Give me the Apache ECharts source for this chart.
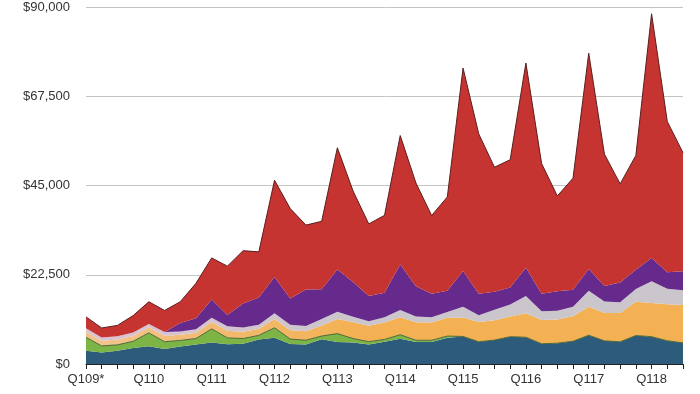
<!DOCTYPE html>
<html>
<head>
<meta charset="utf-8">
<script src="https://cdn.jsdelivr.net/npm/echarts@6/dist/echarts.min.js"></script>
<style>html,body{margin:0;padding:0;background:#fff;}#c{width:700px;height:394px;}</style>
</head>
<body>
<div id="c"></div>
<script>
const categories = ['Q109*','Q209','Q309','Q409','Q110','Q210','Q310','Q410','Q111','Q211','Q311','Q411','Q112','Q212','Q312','Q412','Q113','Q213','Q313','Q413','Q114','Q214','Q314','Q414','Q115','Q215','Q315','Q415','Q116','Q216','Q316','Q416','Q117','Q217','Q317','Q417','Q118','Q218','Q318'];
const yTicks = [0, 22500, 45000, 67500, 90000];
const mac = [3362,2881,3330,4044, 4454,3760,4399,4922, 5428,4976,5105,6162, 6598,5073,4933,6221, 5519,5447,4893,5624, 6395,5519,5540,6625, 6944,5615,6030,6882, 6746,5107,5239,5739, 7244,5844,5592,7170, 6895,5848,5330];
const ipod = [3371,1665,1492,1677, 3391,1861,1545,1497, 3425,1600,1325,1051, 2528,1207,1060,820, 2143,962,733,573, 973,461,442,410, 0,0,0,0, 0,0,0,0, 0,0,0,0, 0,0,0];
const services = [1400,1330,1330,1360, 1400,1500,1400,1430, 1750,1830,1730,1670, 2250,2250,2240,2660, 3687,4114,3990,4260, 4397,4573,4485,4608, 4799,4996,5028,5086, 6056,5991,5976,6325, 7172,7041,7266,8501, 8471,9190,9548];
const other = [860,820,820,840, 867,933,856,880, 1062,1127,1054,1030, 1387,1376,1374,1630, 1829,1379,1179,1319, 1863,1419,1325,1486, 2689,1689,2641,3048, 4351,2189,2219,2373, 4024,2873,2735,3231, 5489,3954,3740];
const ipad = [0,0,0,0, 0,0,2166,2792, 4608,2836,6046,6868, 9153,6590,9171,7510, 10674,8746,6374,6186, 11468,7610,5889,5316, 8985,5428,4538,4276, 7084,4413,4876,4255, 5533,3889,4969,4831, 5862,4113,4741];
const iphone = [2887,2388,2762,4286, 5578,5445,5334,8822, 10468,12298,13311,11489, 24417,22690,16245,17125, 30660,22955,18154,19510, 32498,26064,19751,23678, 51182,40282,31368,32209, 51635,32857,24048,28160, 54378,33249,24846,28846, 61576,38032,29906];

function fmt(v){ return '$' + String(v).replace(/\B(?=(\d{3})+(?!\d))/g, ','); }
function hgrad(c0, c1){
  return new echarts.graphic.LinearGradient(0, 0, 1, 0, [{offset:0, color:c0},{offset:0.45, color:c1},{offset:1, color:c1}]);
}
function mk(name, data, color, line, z){
  return { name, type:'line', stack:'total', data, symbol:'none', smooth:false, z:z||2,
    lineStyle: line || {width:0}, areaStyle:{color:color, opacity:1}, itemStyle:{color:'#888'} };
}
const chart = echarts.init(document.getElementById('c'), null, {renderer:'canvas'});
chart.setOption({
  animation:false,
  backgroundColor:'#fff',
  grid:{left:86, right:17, top:7, bottom:30, containLabel:false},
  xAxis:{type:'category', data:categories, boundaryGap:false,
    axisLine:{show:true, lineStyle:{color:'#222', width:1}},
    axisTick:{show:true, interval:0, length:5, lineStyle:{color:'#222'}},
    axisLabel:{interval:function(i){return i%4===0;}, color:'#333', fontSize:13, fontFamily:'Liberation Sans, Arial, sans-serif', margin:9},
    splitLine:{show:false}},
  yAxis:{type:'value', min:yTicks[0], max:yTicks[yTicks.length-1], interval:22500,
    axisLine:{show:false}, axisTick:{show:false},
    axisLabel:{formatter:fmt, color:'#333', fontSize:13, fontFamily:'Liberation Sans, Arial, sans-serif', margin:16},
    splitLine:{show:true, lineStyle:{color:'#c4c4c4', width:1}}},
  series:[
    mk('Mac', mac, '#2d5b7b'),
    mk('iPod', ipod, '#7db446', {width:1, color:'#4f6a3c'}, 3),
    mk('Services', services, hgrad('#f1c48e', '#f3b153')),
    mk('Other', other, hgrad('#dcc2d2', '#cbc6cb')),
    mk('iPad', ipad, '#652a8c'),
    mk('iPhone', iphone, '#c63431', {width:1, color:'#5a1e1e'}, 4)
  ]
});
</script>
</body>
</html>
